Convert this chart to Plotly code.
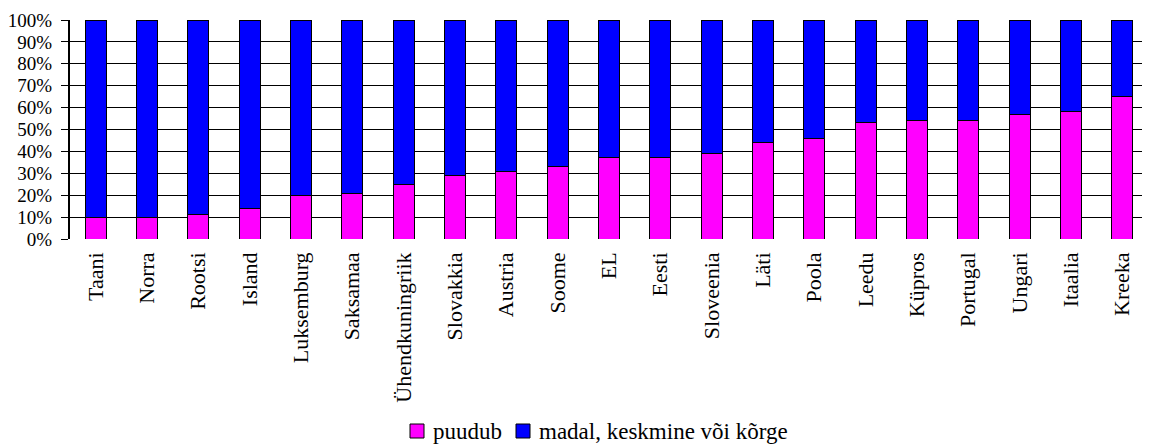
import plotly.graph_objects as go

countries = [
    "Taani", "Norra", "Rootsi", "Island", "Luksemburg", "Saksamaa",
    "Ühendkuningriik", "Slovakkia", "Austria", "Soome", "EL", "Eesti",
    "Sloveenia", "Läti", "Poola", "Leedu", "Küpros", "Portugal", "Ungari",
    "Itaalia", "Kreeka",
]
puudub = [10, 10, 11, 14, 20, 21, 25, 29, 31, 33, 37, 37, 39, 44, 46, 53, 54, 54, 57, 58, 65]
madal_keskmine_korge = [100 - v for v in puudub]

series_names = ["puudub", "madal, keskmine või kõrge"]
series_colors = ["#FF00FF", "#0000FF"]

font_family = "Liberation Serif, Times New Roman, serif"

# the page puts the figure 8px in from the top-left corner, so the
# margins are set so the plot lands at 70..1148 x 20..239 in the window
W, H = 1150, 444
OFF = 8
L, R, T, B = 70 - OFF, 10, 20 - OFF, 444 - (239 - OFF)
pw, ph = W - L - R, H - T - B


def px_x(x):
    # window pixel -> paper coordinate
    return (x - OFF - L) / pw


def px_y(y):
    return (H - B - (y - OFF)) / ph


fig = go.Figure()
for name, vals, col in zip(series_names, [puudub, madal_keskmine_korge], series_colors):
    fig.add_trace(go.Bar(
        x=countries,
        y=vals,
        name=name,
        width=0.41,
        showlegend=False,
        marker={"color": col, "line": {"color": "black", "width": 1}},
    ))

# legend: small squares with black border, text right next to them
legend_x = [410, 516]
for lx, name, col in zip(legend_x, series_names, series_colors):
    fig.add_shape(
        type="rect", xref="paper", yref="paper",
        x0=px_x(lx), x1=px_x(lx + 14), y0=px_y(438), y1=px_y(424),
        fillcolor=col, line={"color": "black", "width": 1},
    )
    fig.add_annotation(
        x=px_x(lx + 21), y=px_y(431), xref="paper", yref="paper",
        text=name, showarrow=False, xanchor="left", yanchor="middle",
        font={"family": font_family, "size": 23, "color": "black"},
    )

fig.update_layout(
    barmode="stack",
    width=W,
    height=H,
    margin={"l": L, "r": R, "t": T, "b": B, "autoexpand": False},
    plot_bgcolor="white",
    paper_bgcolor="white",
    font={"family": font_family, "size": 20, "color": "black"},
    showlegend=False,
    xaxis={
        "tickangle": -90,
        "showgrid": False,
        "showline": False,
        "ticklabelstandoff": 8,
        "tickfont": {"family": font_family, "size": 22},
    },
    yaxis={
        "range": [0, 100],
        "dtick": 10,
        "ticksuffix": "%",
        "showgrid": True,
        "gridcolor": "black",
        "gridwidth": 1,
        "showline": True,
        "linecolor": "black",
        "linewidth": 2,
        "ticks": "outside",
        "ticklen": 7,
        "tickcolor": "black",
        "zeroline": False,
        "ticklabelstandoff": 5,
        "tickfont": {"family": font_family, "size": 19},
    },
)

fig.write_html("out.html")
